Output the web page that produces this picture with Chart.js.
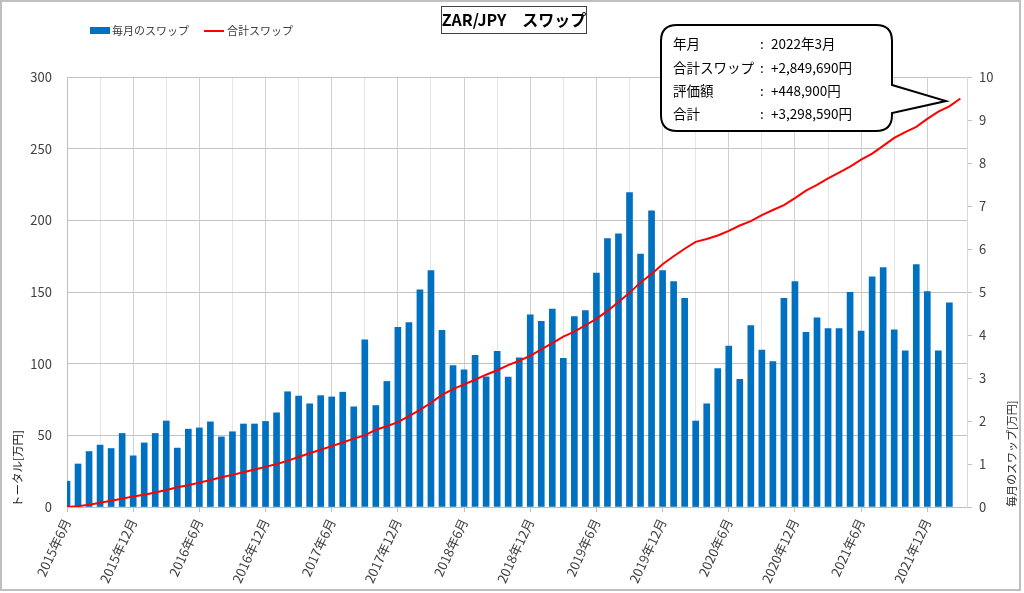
<!DOCTYPE html>
<html>
<head>
<meta charset="utf-8">
<script src="https://cdn.jsdelivr.net/npm/chart.js@4"></script>
<style>
  body { margin: 0; background: #fff; }
  canvas { display: block; }
</style>
</head>
<body>
<canvas id="swap-chart" width="1024" height="593"></canvas>
<script>
const months = [
  '2015年6月', '2015年7月', '2015年8月', '2015年9月', '2015年10月', '2015年11月', '2015年12月',
  '2016年1月', '2016年2月', '2016年3月', '2016年4月', '2016年5月', '2016年6月',
  '2016年7月', '2016年8月', '2016年9月', '2016年10月', '2016年11月', '2016年12月',
  '2017年1月', '2017年2月', '2017年3月', '2017年4月', '2017年5月', '2017年6月',
  '2017年7月', '2017年8月', '2017年9月', '2017年10月', '2017年11月', '2017年12月',
  '2018年1月', '2018年2月', '2018年3月', '2018年4月', '2018年5月', '2018年6月',
  '2018年7月', '2018年8月', '2018年9月', '2018年10月', '2018年11月', '2018年12月',
  '2019年1月', '2019年2月', '2019年3月', '2019年4月', '2019年5月', '2019年6月',
  '2019年7月', '2019年8月', '2019年9月', '2019年10月', '2019年11月', '2019年12月',
  '2020年1月', '2020年2月', '2020年3月', '2020年4月', '2020年5月', '2020年6月',
  '2020年7月', '2020年8月', '2020年9月', '2020年10月', '2020年11月', '2020年12月',
  '2021年1月', '2021年2月', '2021年3月', '2021年4月', '2021年5月', '2021年6月',
  '2021年7月', '2021年8月', '2021年9月', '2021年10月', '2021年11月', '2021年12月',
  '2022年1月', '2022年2月', '2022年3月'
];

// 毎月のスワップ [万円] (2015年6月 - 2022年2月)
const monthlySwap = [
  0.60, 1.00, 1.29, 1.44, 1.36, 1.71, 1.19,
  1.49, 1.71, 2.00, 1.37, 1.81, 1.84, 1.98, 1.63, 1.75, 1.93, 1.93,
  1.99, 2.19, 2.68, 2.58, 2.40, 2.59, 2.56, 2.67, 2.33, 3.89, 2.36, 2.92,
  4.18, 4.29, 5.05, 5.50, 4.11, 3.29, 3.19, 3.53, 3.03, 3.62, 3.02, 3.47,
  4.47, 4.32, 4.60, 3.46, 4.43, 4.57, 5.44, 6.24, 6.35, 7.31, 5.88, 6.89,
  5.50, 5.24, 4.85, 2.00, 2.40, 3.22, 3.74, 2.97, 4.22, 3.65, 3.38, 4.85,
  5.24, 4.06, 4.40, 4.15, 4.15, 4.99, 4.09, 5.35, 5.57, 4.12, 3.63, 5.64,
  5.01, 3.63, 4.75
];

// 合計スワップ [万円] (2015年6月 - 2022年3月)
const totalSwap = [
  0.0, 0.6, 1.6, 2.9, 4.3, 5.7, 7.4,
  8.6, 10.1, 11.8, 13.8, 15.2, 17.0, 18.8, 20.8, 22.4, 24.2, 26.1,
  28.0, 30.0, 32.2, 34.9, 37.5, 39.9, 42.5, 45.0, 47.7, 50.0, 53.9, 56.3,
  59.2, 63.4, 67.7, 72.7, 78.2, 82.3, 85.6, 88.8, 92.3, 95.4, 99.0, 102.0,
  105.5, 109.9, 114.3, 118.9, 122.3, 126.8, 131.3, 136.8, 143.0, 149.4, 156.7, 162.5,
  169.4, 174.9, 180.2, 185.0, 187.0, 189.4, 192.6, 196.4, 199.4, 203.6, 207.2, 210.6,
  215.5, 220.7, 224.8, 229.2, 233.3, 237.5, 242.4, 246.5, 251.9, 257.5, 261.6, 265.2,
  270.8, 275.9, 279.5, 285.0
];

const seriesNames = ['毎月のスワップ', '合計スワップ'];
const chartTitle = 'ZAR/JPY　スワップ';
const calloutLabels = ['年月', '合計スワップ', '評価額', '合計'];
const calloutValues = ['2022年3月', '+2,849,690円', '+448,900円', '+3,298,590円'];

const FONT = '"Noto Sans CJK JP", "Noto Sans", sans-serif';
const BLUE = '#0070c0';
const RED = '#ff0000';

const decor = {
  id: 'decor',
  afterDraw(chart) {
    const c = chart.ctx;
    const area = chart.chartArea;
    c.save();

    // outer frame
    c.strokeStyle = '#bfbfbf';
    c.lineWidth = 2;
    c.strokeRect(1, 1, 1019, 589);

    // title box
    c.fillStyle = '#fff';
    c.fillRect(441, 6, 145, 27);
    c.strokeStyle = '#404040';
    c.lineWidth = 1;
    c.strokeRect(441.5, 6.5, 145, 27);
    c.fillStyle = '#000';
    c.font = 'bold 16px ' + FONT;
    c.textAlign = 'center';
    c.textBaseline = 'middle';
    c.fillText(chartTitle, 514, 20);

    // legend
    c.font = '11px ' + FONT;
    c.textAlign = 'left';
    c.fillStyle = BLUE;
    c.fillRect(90, 27, 20, 7);
    c.fillStyle = '#404040';
    c.fillText(seriesNames[0], 112, 30.5);
    c.strokeStyle = RED;
    c.lineWidth = 2;
    c.beginPath();
    c.moveTo(204, 31);
    c.lineTo(224, 31);
    c.stroke();
    c.fillStyle = '#404040';
    c.fillText(seriesNames[1], 227, 30.5);

    // right axis title (reads bottom to top)
    c.save();
    c.translate(1012, area.bottom);
    c.rotate(-Math.PI / 2);
    c.fillStyle = '#262626';
    c.font = '11px ' + FONT;
    c.textAlign = 'left';
    c.textBaseline = 'middle';
    c.fillText('毎月のスワップ[万円]', 0, 0);
    c.restore();

    // callout
    const L = 661, T = 25, R = 892, B = 131, r = 16;
    c.beginPath();
    c.moveTo(L + r, T);
    c.lineTo(R - r, T);
    c.quadraticCurveTo(R, T, R, T + r);
    c.lineTo(R, 85);
    c.lineTo(946, 101);
    c.lineTo(R, 113);
    c.lineTo(R, B - r);
    c.quadraticCurveTo(R, B, R - r, B);
    c.lineTo(L + r, B);
    c.quadraticCurveTo(L, B, L, B - r);
    c.lineTo(L, T + r);
    c.quadraticCurveTo(L, T, L + r, T);
    c.closePath();
    c.fillStyle = '#fff';
    c.fill();
    c.strokeStyle = '#000';
    c.lineWidth = 2;
    c.stroke();

    c.fillStyle = '#000';
    c.font = '13.5px ' + FONT;
    c.textBaseline = 'middle';
    const rowsY = [44, 67.5, 91, 114];
    calloutLabels.forEach((lab, i) => {
      c.fillText(lab, 673, rowsY[i]);
      c.fillText(':', 760, rowsY[i]);
      c.fillText(calloutValues[i], 771, rowsY[i]);
    });

    c.restore();
  }
};

const ctx = document.getElementById('swap-chart').getContext('2d');
const swapChart = new Chart(ctx, {
  type: 'bar',
  data: {
    datasets: [{
      type: 'line',
      label: seriesNames[1],
      data: totalSwap.map((v, i) => ({ x: i, y: v })),
      yAxisID: 'yTotal',
      borderColor: RED,
      backgroundColor: RED,
      borderWidth: 2,
      pointRadius: 0,
      tension: 0,
      order: 0
    }, {
      type: 'bar',
      label: seriesNames[0],
      data: monthlySwap.map((v, i) => ({ x: i, y: v })),
      yAxisID: 'yMonth',
      backgroundColor: BLUE,
      borderWidth: 0,
      barThickness: 6,
      clip: 0,
      order: 1
    }]
  },
  options: {
    responsive: false,
    animation: false,
    layout: { padding: { top: 77, left: 0, right: 0, bottom: 0 } },
    plugins: {
      legend: { display: false },
      tooltip: { enabled: false }
    },
    scales: {
      x: {
        type: 'linear',
        min: 0,
        max: 81.6,
        offset: false,
        afterFit: (scale) => { scale.height = 86; },
        grid: {
          offset: false,
          color: (c) => {
            const v = c.tick.value;
            if (v % 6 === 0) return '#d0d0d0';
            if (v % 3 === 0) return '#e6e6e6';
            return '#d9d9d9';
          },
          tickColor: (c) => c.tick.value % 6 === 0 ? '#bfbfbf' : 'rgba(0,0,0,0)',
          tickLength: 5
        },
        border: { color: '#bfbfbf' },
        ticks: {
          stepSize: 3,
          autoSkip: false,
          minRotation: 65,
          maxRotation: 65,
          padding: 4,
          color: '#404040',
          font: { family: FONT, size: 13 },
          callback: (value) => value % 6 === 0 ? months[value] : ''
        }
      },
      yTotal: {
        position: 'left',
        min: 0,
        max: 300,
        afterFit: (scale) => { scale.width = 67; },
        grid: { color: '#c4c4c4', drawTicks: false },
        border: { color: '#bfbfbf' },
        ticks: {
          stepSize: 50,
          padding: 15,
          color: '#404040',
          font: { family: FONT, size: 13 }
        },
        title: {
          display: true,
          text: 'トータル[万円]',
          align: 'start',
          color: '#262626',
          font: { family: FONT, size: 11.5 },
          padding: { top: 11, bottom: 0 }
        }
      },
      yMonth: {
        position: 'right',
        min: 0,
        max: 10,
        afterFit: (scale) => { scale.width = 57; },
        grid: { drawOnChartArea: false, color: '#bfbfbf', tickLength: 5 },
        border: { color: '#d9d9d9' },
        ticks: {
          stepSize: 1,
          padding: 7,
          color: '#404040',
          font: { family: FONT, size: 13 }
        }
      }
    }
  },
  plugins: [decor]
});
</script>
</body>
</html>
